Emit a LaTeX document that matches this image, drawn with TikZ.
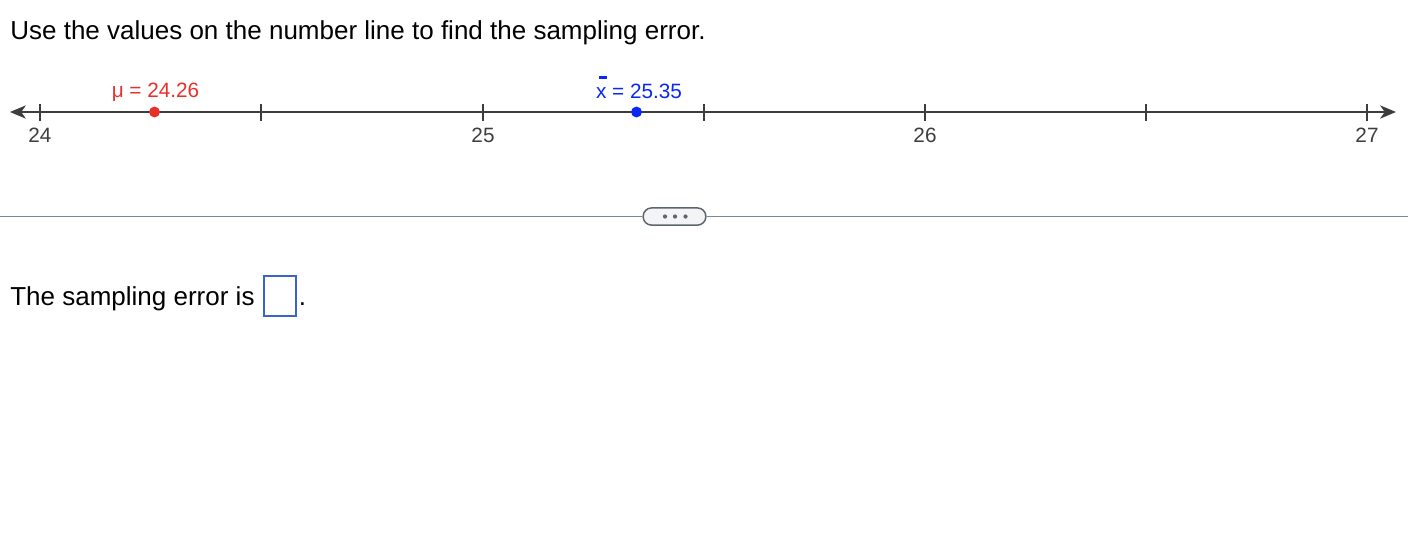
\documentclass[tikz,border=0pt]{standalone}
\usepackage{fontspec}
\setmainfont{Liberation Sans}
\usetikzlibrary{arrows.meta}
\definecolor{lineink}{HTML}{3D3D3D}
\definecolor{mured}{HTML}{E8302A}
\definecolor{xbarblue}{HTML}{0B28F2}
\definecolor{rulegray}{HTML}{7C8794}
\definecolor{buttongray}{HTML}{5B6671}
\definecolor{buttonfill}{HTML}{F3F4F6}
\definecolor{boxblue}{HTML}{3C64C8}

\begin{document}
\begin{tikzpicture}[x=.02cm,y=-.02cm,
    bodytext/.style={anchor=base west,inner sep=0pt,font=\fontsize{14.8}{17}\selectfont},
    ticklabel/.style={text=lineink,inner sep=0pt,font=\fontsize{11.8}{14}\selectfont},
    pointlabel/.style={anchor=base,inner sep=0pt,font=\fontsize{11.8}{14}\selectfont},
    tickmark/.style={lineink,line width=1.1pt},
    pointdot/.style={circle,inner sep=0pt,minimum size=6.2pt}]
        \useasboundingbox (0,0) rectangle (1416,532);
        \node[bodytext] (question) at (10,39)
          {Use the values on the number line to find the sampling error.};
        % number line
        \coordinate (lineleft) at (10,112);
        \coordinate (lineright) at (1396,112);
        \draw[lineink,line width=1.2pt,
          {Stealth[length=9pt,width=7.5pt,inset=2.6pt]}-{Stealth[length=9pt,width=7.5pt,inset=2.6pt]}]
          (lineleft) -- (lineright);
        \draw[tickmark] (40,104) -- (40,121);
        \draw[tickmark] (261,104) -- (261,121);
        \draw[tickmark] (483,104) -- (483,121);
        \draw[tickmark] (704,104) -- (704,121);
        \draw[tickmark] (925,104) -- (925,121);
        \draw[tickmark] (1146,104) -- (1146,121);
        \draw[tickmark] (1367,104) -- (1367,121);
        \node[ticklabel] (lab24) at (40,135) {24};
        \node[ticklabel] (lab25) at (483,135) {25};
        \node[ticklabel] (lab26) at (925,135) {26};
        \node[ticklabel] (lab27) at (1367,135) {27};
        % population mean and sample mean
        \node[pointdot,fill=mured] (mupoint) at (154.5,112) {};
        \node[pointlabel,text=mured] (mulabel) at (155.5,97.5) {μ = 24.26};
        \node[pointdot,fill=xbarblue] (xbarpoint) at (636.5,112) {};
        \node[pointlabel,text=xbarblue] (xbarlabel) at (639,98)
          {\makebox[0pt][l]{\raisebox{.93em}{\kern.13em\rule{.38em}{.11em}}}x = 25.35};
        % divider with the more button
        \coordinate (ruleleft) at (0,216.5);
        \coordinate (ruleright) at (1408,216.5);
        \node[draw=buttongray,fill=buttonfill,line width=.85pt,rounded corners=4.8pt,
          minimum width=35.7pt,minimum height=9.8pt,inner sep=0pt] (morebutton) at (674.5,216.5) {};
        \draw[rulegray,line width=.85pt] (ruleleft) -- (morebutton);
        \draw[rulegray,line width=.85pt] (morebutton) -- (ruleright);
        \fill[buttongray] (665,216.5) circle (1.2pt);
        \fill[buttongray] (675,216.5) circle (1.2pt);
        \fill[buttongray] (685.5,216.5) circle (1.2pt);
        % answer line
        \node[bodytext] (answer) at (10,305) {The sampling error is};
        \node[draw=boxblue,line width=.9pt,minimum width=18.1pt,minimum height=22.7pt,
          inner sep=0pt] (answerbox) at (280,296) {};
        \node[bodytext] (period) at (298.5,305) {.};
      \end{tikzpicture}
\end{document}
